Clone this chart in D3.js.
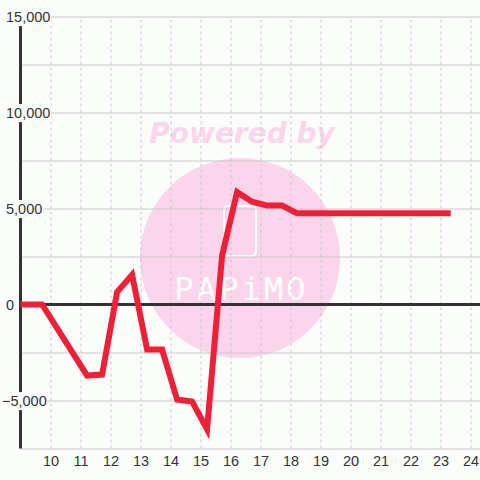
<!DOCTYPE html>
<html><head><meta charset="utf-8">
<script src="https://cdn.jsdelivr.net/npm/d3@7"></script>
<style>html,body{margin:0;padding:0;background:#fbfdfb;} svg{display:block;}</style>
</head><body>
<svg id="c" width="480" height="480"></svg>
<script>
const xValues = [9.0, 9.72, 11.22, 11.72, 12.22, 12.72, 13.22, 13.72, 14.22, 14.72, 15.22, 15.72, 16.22, 16.72, 17.22, 17.72, 18.22, 23.34];
const yValues = [0, 0, -3700, -3650, 650, 1550, -2350, -2350, -4950, -5050, -6500, 2550, 5850, 5350, 5150, 5150, 4750, 4750];
const xTickValues = [10, 11, 12, 13, 14, 15, 16, 17, 18, 19, 20, 21, 22, 23, 24];
const yTickValues = [-5000, 0, 5000, 10000, 15000];
const yGridValues = [-7500, -5000, -2500, 2500, 5000, 7500, 10000, 12500, 15000];
const watermarkTop = "Powered by";
const watermarkBrand = ["P", "A", "P", "i", "M", "O"];

const svg = d3.select("#c");
const x = d3.scaleLinear().domain([9, 25]).range([20.5, 500.5]);
const y = d3.scaleLinear().domain([-7500, 15000]).range([448.5, 16.5]);
const FONT = "'Liberation Sans', Arial, sans-serif";
const pink = "#fbd5ec";

svg.append("rect").attr("width", 480).attr("height", 480).attr("fill", "#fbfdfb");

// watermark
const wm = svg.append("g");
wm.append("circle").attr("cx", 240).attr("cy", 258).attr("r", 100).attr("fill", pink);
wm.append("text").attr("x", 242).attr("y", 143).attr("text-anchor", "middle")
  .attr("font-family", "'DejaVu Sans', sans-serif").attr("font-weight", "bold").attr("font-style", "italic")
  .attr("font-size", 28).attr("fill", pink).text(watermarkTop);
wm.append("rect").attr("x", 224).attr("y", 206).attr("width", 32).attr("height", 50).attr("rx", 4)
  .attr("fill", "none").attr("stroke", "#ffffff").attr("stroke-width", 2);
const bx = d3.scalePoint().domain(d3.range(watermarkBrand.length)).range([184, 296]);
wm.selectAll("text.brand").data(watermarkBrand).join("text").attr("class", "brand")
  .attr("x", (d, i) => bx(i)).attr("y", 300).attr("text-anchor", "middle")
  .attr("font-family", "'DejaVu Sans Mono', monospace").attr("font-size", 32)
  .attr("fill", "#ffffff").text(d => d);

// horizontal grid
const gy = svg.append("g").attr("transform", "translate(20.5,0)")
  .call(d3.axisRight(y).tickValues(yGridValues).tickSize(460).tickFormat(""));
gy.select(".domain").remove();
gy.selectAll("line").attr("stroke", "#c8c8c8").attr("stroke-width", 1);

// vertical dashed grid
const gx = svg.append("g").attr("transform", "translate(0,448.5)")
  .call(d3.axisTop(x).tickValues(xTickValues).tickSize(432).tickFormat(""));
gx.select(".domain").remove();
gx.selectAll("line").attr("stroke", "#c8c8c8").attr("stroke-width", 1).attr("stroke-dasharray", "3,3");

// zero line & y axis line
svg.append("line").attr("x1", 20).attr("x2", 480).attr("y1", y(0)).attr("y2", y(0))
  .attr("stroke", "#333333").attr("stroke-width", 3);
svg.append("line").attr("x1", x(9)).attr("x2", x(9)).attr("y1", 16).attr("y2", 448.5)
  .attr("stroke", "#333333").attr("stroke-width", 3);

// y labels with background
const yl = svg.append("g").call(d3.axisLeft(y).tickValues(yTickValues).tickSize(0).tickFormat(d3.format(",")));
yl.select(".domain").remove();
yl.selectAll(".tick text")
  .attr("x", d => d < 0 ? 2 : 6).attr("text-anchor", "start").attr("dy", "0.35em")
  .attr("font-family", FONT).attr("font-size", 14.5).attr("fill", "#333333");
yl.selectAll(".tick").each(function() {
  const t = d3.select(this).select("text");
  const b = t.node().getBBox();
  d3.select(this).insert("rect", "text").attr("x", b.x - 1).attr("y", b.y - 1)
    .attr("width", b.width + 2).attr("height", b.height + 2).attr("fill", "#fbfdfb");
});

// x labels
const xl = svg.append("g").attr("transform", "translate(0,448.5)")
  .call(d3.axisBottom(x).tickValues(xTickValues).tickSize(0).tickPadding(7).tickFormat(d3.format("d")));
xl.select(".domain").remove();
xl.selectAll(".tick text").attr("font-family", FONT).attr("font-size", 14.5).attr("fill", "#333333");

// series line
const pts = xValues.map((v, i) => [v, yValues[i]]);
svg.append("path").datum(pts)
  .attr("d", d3.line().x(d => x(d[0])).y(d => y(d[1])))
  .attr("fill", "none").attr("stroke", "#ee2037").attr("stroke-width", 6)
  .attr("stroke-linejoin", "miter").attr("stroke-linecap", "butt");
</script>
</body></html>
